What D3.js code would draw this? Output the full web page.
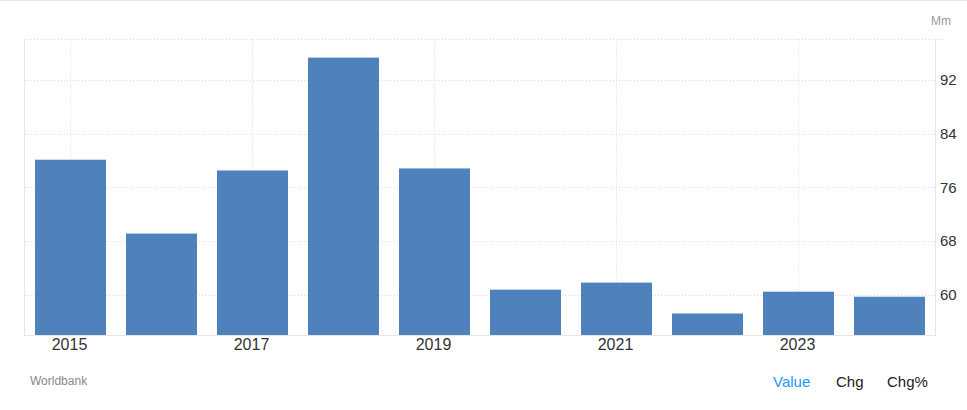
<!DOCTYPE html>
<html>
<head>
<meta charset="utf-8">
<script src="https://cdn.jsdelivr.net/npm/d3@7"></script>
<style>
  html, body { margin: 0; padding: 0; background: #fff; }
  svg { display: block; font-family: Arial, "Liberation Sans", sans-serif; }
</style>
</head>
<body>
<svg id="chart" width="967" height="410"></svg>
<script>
const years = ["2015","2016","2017","2018","2019","2020","2021","2022","2023","2024"];
const values = [80.1, 69.1, 78.5, 95.3, 78.8, 60.75, 61.8, 57.2, 60.45, 59.7];
const yTicks = [60, 68, 76, 84, 92];
const xTickLabels = ["2015","2017","2019","2021","2023"];
const unitLabel = "Mm";
const sourceLabel = "Worldbank";
const tabs = ["Value", "Chg", "Chg%"];

const svg = d3.select("#chart");
const W = 967, H = 410;
const m = {left: 25, right: 32, top: 39.5, bottom: 75};
const x0 = m.left, x1 = W - m.right, y0 = m.top, y1 = H - m.bottom;

// top border
svg.append("line").attr("x1", 0).attr("x2", W).attr("y1", 0.5).attr("y2", 0.5)
  .attr("stroke", "#e6e6e6").attr("stroke-width", 1);

const x = d3.scaleBand().domain(years).range([x0, x1]).paddingInner(0.22).paddingOuter(0.11);
const y = d3.scaleLinear().domain([54, 98]).range([y1, y0]);

// horizontal grid
svg.append("g").selectAll("line").data(yTicks).join("line")
  .attr("x1", x0).attr("x2", x1)
  .attr("y1", d => Math.round(y(d)) + 0.5).attr("y2", d => Math.round(y(d)) + 0.5)
  .attr("stroke", "#dcdcdc").attr("stroke-dasharray", "1,2");
// top grid line
svg.append("line").attr("x1", x0).attr("x2", x1 + 10).attr("y1", y0).attr("y2", y0)
  .attr("stroke", "#dcdcdc").attr("stroke-dasharray", "1,2");

// vertical grid
svg.append("g").selectAll("line").data(xTickLabels).join("line")
  .attr("x1", d => Math.round(x(d) + x.bandwidth() / 2) - 0.5)
  .attr("x2", d => Math.round(x(d) + x.bandwidth() / 2) - 0.5)
  .attr("y1", y0).attr("y2", y1)
  .attr("stroke", "#dcdcdc").attr("stroke-dasharray", "1,2");

// bars
svg.append("g").selectAll("rect").data(years).join("rect")
  .attr("x", d => x(d))
  .attr("width", x.bandwidth())
  .attr("y", (d, i) => y(values[i]))
  .attr("height", (d, i) => y1 - y(values[i]))
  .attr("fill", "#4f81bd");

// axis lines
svg.append("line").attr("x1", x0 - 0.5).attr("x2", x0 - 0.5).attr("y1", y0).attr("y2", y1)
  .attr("stroke", "#e6e6e6");
svg.append("line").attr("x1", x1 + 0.5).attr("x2", x1 + 0.5).attr("y1", y0).attr("y2", y1)
  .attr("stroke", "#e6e6e6");
svg.append("line").attr("x1", x0 - 1).attr("x2", x1 + 1).attr("y1", y1 + 0.5).attr("y2", y1 + 0.5)
  .attr("stroke", "#e6e6e6");

// y tick labels (right side)
svg.append("g").selectAll("text").data(yTicks).join("text")
  .attr("x", x1 + 5).attr("y", d => y(d)).attr("dy", "0.35em")
  .attr("font-size", 15).attr("fill", "#333")
  .text(d => d);

// x tick labels
svg.append("g").selectAll("text").data(xTickLabels).join("text")
  .attr("x", d => x(d) + x.bandwidth() / 2 - 1).attr("y", 349.5)
  .attr("text-anchor", "middle").attr("font-size", 16).attr("fill", "#333")
  .text(d => d);

// unit label
svg.append("text").attr("x", 951).attr("y", 24.5).attr("text-anchor", "end")
  .attr("font-size", 12).attr("fill", "#999").text(unitLabel);

// source
svg.append("text").attr("x", 30).attr("y", 385)
  .attr("font-size", 12).attr("fill", "#888").text(sourceLabel);

// tabs
const tabX = [773, 836, 887];
svg.append("g").selectAll("text").data(tabs).join("text")
  .attr("x", (d, i) => tabX[i]).attr("y", 387)
  .attr("font-size", 15)
  .attr("fill", (d, i) => i === 0 ? "#2196f3" : "#222")
  .text(d => d);
</script>
</body>
</html>
